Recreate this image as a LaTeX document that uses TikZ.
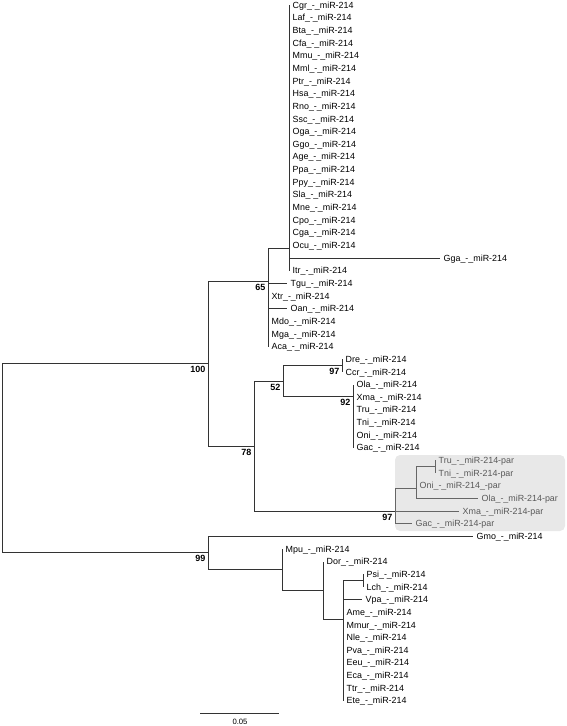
\documentclass[tikz,border=0pt]{standalone}
\usepackage{fontspec}
\setmainfont{Liberation Sans}
\tikzset{
  branch/.style={draw=black!80, line width=0.9pt},
  parbranch/.style={draw=black!60, line width=0.9pt},
  leaf/.style={anchor=west, inner xsep=3.5pt, inner ysep=0pt, text height=6.3pt, text depth=0pt, font=\fontsize{8.9}{10}\selectfont},
  parleaf/.style={leaf, text=black!65},
  boot/.style={anchor=north east, inner sep=0pt, xshift=-2.5pt, yshift=-3pt, font=\fontsize{9}{10}\selectfont\bfseries},
}
\begin{document}
\begin{tikzpicture}[x=1pt,y=-1pt]
\useasboundingbox (0,0) rectangle (567,726);

% shaded paralog clade
\fill[gray!18, rounded corners=5pt] (395,455) rectangle (565,531);

% internal nodes
\coordinate (root) at (2,457);
\coordinate (n100) at (208,363);
\coordinate (n65) at (268,281);
\coordinate (cA) at (289,248);
\coordinate (n78) at (254,446);
\coordinate (n52) at (283,381);
\coordinate (n97a) at (342,365.5);
\coordinate (n92) at (353,396);
\coordinate (n97b) at (395,511);
\coordinate (pA) at (416,488);
\coordinate (pB) at (435,466);
\coordinate (n99) at (208,552);
\coordinate (nM) at (282,569);
\coordinate (nD) at (323,590);
\coordinate (nL) at (343,619);
\coordinate (nPL) at (363,580);

% leaves
\node[leaf] (cgr) at (289,5.0) {Cgr\_-\_miR-214};
\node[leaf] (laf) at (289,17.65) {Laf\_-\_miR-214};
\node[leaf] (bta) at (289,30.3) {Bta\_-\_miR-214};
\node[leaf] (cfa) at (289,42.95) {Cfa\_-\_miR-214};
\node[leaf] (mmu) at (289,55.6) {Mmu\_-\_miR-214};
\node[leaf] (mml) at (289,68.25) {Mml\_-\_miR-214};
\node[leaf] (ptr) at (289,80.9) {Ptr\_-\_miR-214};
\node[leaf] (hsa) at (289,93.55) {Hsa\_-\_miR-214};
\node[leaf] (rno) at (289,106.2) {Rno\_-\_miR-214};
\node[leaf] (ssc) at (289,118.85) {Ssc\_-\_miR-214};
\node[leaf] (oga) at (289,131.5) {Oga\_-\_miR-214};
\node[leaf] (ggo) at (289,144.15) {Ggo\_-\_miR-214};
\node[leaf] (age) at (289,156.8) {Age\_-\_miR-214};
\node[leaf] (ppa) at (289,169.45) {Ppa\_-\_miR-214};
\node[leaf] (ppy) at (289,182.1) {Ppy\_-\_miR-214};
\node[leaf] (sla) at (289,194.75) {Sla\_-\_miR-214};
\node[leaf] (mne) at (289,207.4) {Mne\_-\_miR-214};
\node[leaf] (cpo) at (289,220.05) {Cpo\_-\_miR-214};
\node[leaf] (cga) at (289,232.7) {Cga\_-\_miR-214};
\node[leaf] (ocu) at (289,245.35) {Ocu\_-\_miR-214};
\node[leaf] (gga) at (440,258.0) {Gga\_-\_miR-214};
\node[leaf] (itr) at (289,270.65) {Itr\_-\_miR-214};
\node[leaf] (tgu) at (287,283.3) {Tgu\_-\_miR-214};
\node[leaf] (xtr) at (268,295.95) {Xtr\_-\_miR-214};
\node[leaf] (oan) at (287,308.6) {Oan\_-\_miR-214};
\node[leaf] (mdo) at (268,321.25) {Mdo\_-\_miR-214};
\node[leaf] (mga) at (268,333.9) {Mga\_-\_miR-214};
\node[leaf] (aca) at (268,346.55) {Aca\_-\_miR-214};
\node[leaf] (dre) at (342,359.2) {Dre\_-\_miR-214};
\node[leaf] (ccr) at (342,371.85) {Ccr\_-\_miR-214};
\node[leaf] (ola) at (353,384.5) {Ola\_-\_miR-214};
\node[leaf] (xma) at (353,397.15) {Xma\_-\_miR-214};
\node[leaf] (tru) at (353,409.8) {Tru\_-\_miR-214};
\node[leaf] (tni) at (353,422.45) {Tni\_-\_miR-214};
\node[leaf] (oni) at (353,435.1) {Oni\_-\_miR-214};
\node[leaf] (gac) at (353,447.75) {Gac\_-\_miR-214};
\node[parleaf] (trup) at (435,460.4) {Tru\_-\_miR-214-par};
\node[parleaf] (tnip) at (435,473.05) {Tni\_-\_miR-214-par};
\node[parleaf] (onip) at (416,485.7) {Oni\_-\_miR-214\_-par};
\node[parleaf] (olap) at (478,498.35) {Ola\_-\_miR-214-par};
\node[parleaf] (xmap) at (459,511.0) {Xma\_-\_miR-214-par};
\node[parleaf] (gacp) at (412,523.65) {Gac\_-\_miR-214-par};
\node[leaf] (gmo) at (473,536.3) {Gmo\_-\_miR-214};
\node[leaf] (mpu) at (282,548.95) {Mpu\_-\_miR-214};
\node[leaf] (dor) at (323,561.6) {Dor\_-\_miR-214};
\node[leaf] (psi) at (363,574.25) {Psi\_-\_miR-214};
\node[leaf] (lch) at (363,586.9) {Lch\_-\_miR-214};
\node[leaf] (vpa) at (362,599.55) {Vpa\_-\_miR-214};
\node[leaf] (ame) at (343,612.2) {Ame\_-\_miR-214};
\node[leaf] (mmur) at (343,624.85) {Mmur\_-\_miR-214};
\node[leaf] (nle) at (343,637.5) {Nle\_-\_miR-214};
\node[leaf] (pva) at (343,650.15) {Pva\_-\_miR-214};
\node[leaf] (eeu) at (343,662.8) {Eeu\_-\_miR-214};
\node[leaf] (eca) at (343,675.45) {Eca\_-\_miR-214};
\node[leaf] (ttr) at (343,688.1) {Ttr\_-\_miR-214};
\node[leaf] (ete) at (343,700.75) {Ete\_-\_miR-214};

% branches
\draw[branch] (root) |- (n100) (root) |- (n99);
\draw[branch] (n100) |- (n65) (n100) |- (n78);
\draw[branch] (n65) |- (cA) (n65) |- (tgu.west) (n65) |- (xtr.west) (n65) |- (oan.west)
  (n65) |- (mdo.west) (n65) |- (mga.west) (n65) |- (aca.west);
\draw[branch] (cA) |- (cgr.west) (cA) |- (itr.west) (cA) |- (gga.west);
\draw[branch] (n78) |- (n52) (n78) |- (n97b);
\draw[branch] (n52) |- (n97a) (n52) |- (n92);
\draw[branch] (n97a) |- (dre.west) (n97a) |- (ccr.west);
\draw[branch] (n92) |- (ola.west) (n92) |- (gac.west);
\draw[parbranch] (n97b) |- (pA) (n97b) |- (xmap.west) (n97b) |- (gacp.west);
\draw[parbranch] (pA) |- (pB) (pA) |- (onip.west) (pA) |- (olap.west);
\draw[parbranch] (pB) |- (trup.west) (pB) |- (tnip.west);
\draw[branch] (n99) |- (gmo.west) (n99) |- (nM);
\draw[branch] (nM) |- (mpu.west) (nM) |- (nD);
\draw[branch] (nD) |- (dor.west) (nD) |- (nL);
\draw[branch] (nL) |- (nPL) (nL) |- (vpa.west) (nL) |- (ete.west);
\draw[branch] (nPL) |- (psi.west) (nPL) |- (lch.west);

% bootstrap values
\node[boot] (b100) at (n100) {100};
\node[boot] (b65) at (n65) {65};
\node[boot] (b78) at (n78) {78};
\node[boot] (b52) at (n52) {52};
\node[boot] (b97a) at (n97a) {97};
\node[boot] (b92) at (n92) {92};
\node[boot] (b97b) at (n97b) {97};
\node[boot] (b99) at (n99) {99};

% scale bar
\coordinate (bar0) at (200,713);
\coordinate (bar1) at (279,713);
\draw[branch] (bar0) -- (bar1);
\node[inner sep=0pt, font=\fontsize{7.7}{9}\selectfont] (barlbl) at (240,722) {0.05};
\end{tikzpicture}
\end{document}
